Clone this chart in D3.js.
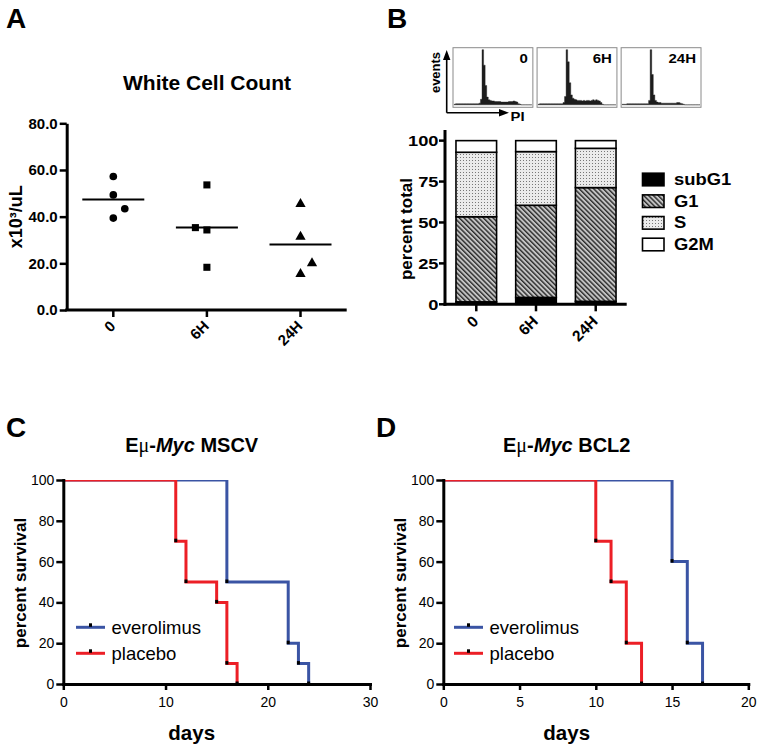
<!DOCTYPE html>
<html><head><meta charset="utf-8">
<script src="https://cdnjs.cloudflare.com/ajax/libs/d3/7.8.5/d3.min.js"></script>
<style>
body{margin:0;background:#fff;}
text{font-family:Arial,"Liberation Sans",Helvetica,sans-serif;fill:#000;}
</style></head><body>
<svg id="fig" width="762" height="750"></svg>
<script>
// ---------- DATA ----------
// Panel A: white cell count (x10^3/uL)
const wbcCategories = ["0", "6H", "24H"];
const wbc0 = [57.2, 49.3, 43.4, 39.4];
const wbc6H = [53.6, 35.3, 34.3, 18.3];
const wbc24H = [45.4, 31.4, 20.0, 15.4];
const wbcDodge = [[0, 0, 1, 0], [0, -1, 0, 0], [0, 0, 1, 0]];
const wbcTicks = [0, 20, 40, 60, 80];

// Panel B: cell cycle histograms (relative events per PI bin)
const histLabels = ["0", "6H", "24H"];
const hist0 = [1,2,2,2,2,2,2,2,2,2,2,2,2,2,2,2,3,10,100,72,35,14,9,8,7,7,6,6,6,6,5,5,5,5,5,6,6,6,7,6,5,2,1,0,0,0,0,0,0,0];
const hist6H = [1,2,2,2,2,2,2,2,2,2,2,2,2,2,2,2,4,15,100,78,40,18,12,10,9,8,8,8,7,8,7,8,8,7,8,9,8,9,8,7,4,1,0,0,0,0,0,0,0,0];
const hist24H = [1,1,1,2,2,2,2,2,2,2,2,2,2,2,2,2,2,8,100,55,18,8,5,4,4,3,3,3,3,3,3,3,3,3,3,4,4,3,2,1,0,0,0,0,0,0,0,0,0,0];

// Panel B: stacked percent of cell cycle phases
const cycleCategories = ["0", "6H", "24H"];
const cyclePhases = ["subG1", "G1", "S", "G2M"];
const subG1 = [1.5, 4.2, 1.8];
const G1 = [52.0, 56.3, 69.5];
const S = [39.4, 32.8, 24.0];
const G2M = [7.1, 6.7, 4.7];
const cycleTicks = [0, 25, 50, 75, 100];

// Panels C & D: Kaplan-Meier survival (days, percent survival)
const survSeries = ["everolimus", "placebo"];
const cEverDays = [0, 16, 22, 23, 24];
const cEverSurv = [100, 50, 20, 10, 0];
const cPlacDays = [0, 11, 12, 15, 16, 17];
const cPlacSurv = [100, 70, 50, 40, 10, 0];
const dEverDays = [0, 15, 16, 17];
const dEverSurv = [100, 60, 20, 0];
const dPlacDays = [0, 10, 11, 12, 13];
const dPlacSurv = [100, 70, 50, 20, 0];
const cDayTicks = [0, 10, 20, 30];
const dDayTicks = [0, 5, 10, 15, 20];
const survTicks = [0, 20, 40, 60, 80, 100];

// ---------- DRAW ----------
const svg = d3.select("#fig");
svg.append("rect").attr("width", 762).attr("height", 750).attr("fill", "#fff");
const defs = svg.append("defs");

// patterns
const hatch = defs.append("pattern").attr("id", "hatch").attr("patternUnits", "userSpaceOnUse")
  .attr("width", 3.4).attr("height", 3.4).attr("patternTransform", "rotate(-45)");
hatch.append("rect").attr("width", 3.4).attr("height", 3.4).attr("fill", "#c4c4c4");
hatch.append("rect").attr("x", 0).attr("width", 1.4).attr("height", 3.4).attr("fill", "#2a2a2a");
const dots = defs.append("pattern").attr("id", "dots").attr("patternUnits", "userSpaceOnUse")
  .attr("width", 3).attr("height", 3);
dots.append("rect").attr("width", 3).attr("height", 3).attr("fill", "#ebebeb");
dots.append("rect").attr("x", 1).attr("y", 1).attr("width", 1).attr("height", 1).attr("fill", "#777");

function stretchText(g, x, y, sx, txt) {
  return g.append("text").attr("transform", `translate(${x},${y}) scale(${sx},1)`).text(txt);
}

// panel letters
[["A", 6, 28], ["B", 387, 28], ["C", 6, 437], ["D", 376, 437]].forEach(([t, x, y]) =>
  svg.append("text").attr("x", x).attr("y", y).attr("font-size", 28).attr("font-weight", "bold").text(t));

// ===== Panel A =====
{
  const g = svg.append("g");
  const y = d3.scaleLinear().domain([0, 80]).range([310, 123.3]);
  const x = d3.scalePoint().domain(wbcCategories).range([113.3, 300.5]);
  const axL = g.append("g").attr("transform", "translate(66.7,0)")
    .call(d3.axisLeft(y).tickValues(wbcTicks).tickFormat(d3.format(".1f")).tickSize(7).tickPadding(2).tickSizeOuter(0));
  axL.select(".domain").attr("stroke-width", 3);
  axL.selectAll(".tick line").attr("stroke-width", 2.5);
  axL.selectAll(".tick text").attr("font-size", 15).attr("font-weight", "bold").attr("font-family", "Arial, 'Liberation Sans', sans-serif").attr("fill", "#000");
  g.append("line").attr("x1", 65.2).attr("x2", 346.7).attr("y1", y(0)).attr("y2", y(0)).attr("stroke", "#000").attr("stroke-width", 3);
  wbcCategories.forEach(c => {
    g.append("line").attr("x1", x(c)).attr("x2", x(c)).attr("y1", y(0)).attr("y2", y(0) + 7).attr("stroke", "#000").attr("stroke-width", 2.5);
    g.append("text").attr("transform", `translate(${x(c) + 3},${y(0) + 17}) rotate(-45)`)
      .attr("text-anchor", "end").attr("font-size", 15).attr("font-weight", "bold").text(c);
  });
  const series = [wbc0, wbc6H, wbc24H];
  const shapes = [d3.symbolCircle, d3.symbolSquare, d3.symbolTriangle];
  const sizes = [46, 50, 46];
  series.forEach((vals, i) => {
    const c = wbcCategories[i];
    vals.forEach((v, j) => {
      g.append("path").attr("d", d3.symbol(shapes[i], sizes[i])())
        .attr("transform", `translate(${x(c) + wbcDodge[i][j] * 11.5},${y(v)})`).attr("fill", "#000");
    });
    const m = d3.mean(vals);
    g.append("line").attr("x1", x(c) - 31).attr("x2", x(c) + 31).attr("y1", y(m)).attr("y2", y(m))
      .attr("stroke", "#000").attr("stroke-width", 2);
  });
  g.append("text").attr("x", 207).attr("y", 89.5).attr("text-anchor", "middle")
    .attr("font-size", 21).attr("font-weight", "bold").text("White Cell Count");
  g.append("text").attr("transform", "translate(22,216.7) rotate(-90)").attr("text-anchor", "middle")
    .attr("font-size", 18).attr("font-weight", "bold").text("x10³/uL");
}

// ===== Panel B histograms =====
{
  const g = svg.append("g");
  const xb = d3.scaleBand().domain(histLabels).range([453, 701]).paddingInner(0.05);
  const hists = [hist0, hist6H, hist24H];
  const top = 47.7, h = 59.6;
  histLabels.forEach((lab, i) => {
    const x0 = xb(lab), w = xb.bandwidth();
    const data = hists[i];
    const xs = d3.scaleLinear().domain([0, data.length]).range([x0 + 1, x0 + w - 1]);
    const ys = d3.scaleLinear().domain([0, 100]).range([top + h - 2.5, top + 2]);
    const area = d3.area().x((d, k) => xs(k)).y0(ys(0)).y1(d => ys(d)).curve(d3.curveStepAfter);
    g.append("path").attr("d", area(data.concat([data[data.length - 1]]))).attr("fill", "#1c1c1c")
      .attr("stroke", "#1c1c1c").attr("stroke-width", 0.4);
    g.append("rect").attr("x", x0).attr("y", top).attr("width", w).attr("height", h)
      .attr("fill", "none").attr("stroke", "#8a8a8a").attr("stroke-width", 1);
    stretchText(g, x0 + w - 5, 62.5, 1.2, lab).attr("text-anchor", "end").attr("font-size", 12.5).attr("font-weight", "bold");
  });
  // axes arrows
  g.append("path").attr("d", "M446.7,112.7V58 M446.7,112.7H500").attr("stroke", "#000").attr("stroke-width", 1.6).attr("fill", "none");
  g.append("path").attr("d", "M446.7,50L443,60L450.4,60Z M509,112.7L499,109L499,116.4Z").attr("fill", "#000");
  g.append("text").attr("transform", "translate(439.5,72.5) rotate(-90)").attr("text-anchor", "middle")
    .attr("font-size", 13).attr("font-weight", "bold").text("events");
  stretchText(g, 510.5, 120.5, 1.1, "PI").attr("font-size", 13.5).attr("font-weight", "bold");
}

// ===== Panel B stacked bars =====
{
  const g = svg.append("g");
  const x = d3.scaleBand().domain(cycleCategories).range([446, 626]).paddingInner(0.32).paddingOuter(0.167);
  const y = d3.scaleLinear().domain([0, 106.5]).range([304.3, 130]);
  const rows = cycleCategories.map((c, i) => ({cat: c, subG1: subG1[i], G1: G1[i], S: S[i], G2M: G2M[i]}));
  const stack = d3.stack().keys(cyclePhases)(rows);
  const fills = {subG1: "#000", G1: "url(#hatch)", S: "url(#dots)", G2M: "#fff"};
  stack.forEach(layer => {
    g.selectAll(null).data(layer).enter().append("rect")
      .attr("x", d => x(d.data.cat)).attr("width", x.bandwidth())
      .attr("y", d => y(d[1])).attr("height", d => y(d[0]) - y(d[1]))
      .attr("fill", fills[layer.key]).attr("stroke", "#000").attr("stroke-width", 1.6);
  });
  // y axis
  g.append("line").attr("x1", 445).attr("x2", 445).attr("y1", 130).attr("y2", 305.8).attr("stroke", "#000").attr("stroke-width", 3);
  cycleTicks.forEach(t => {
    g.append("line").attr("x1", 439).attr("x2", 445).attr("y1", y(t)).attr("y2", y(t)).attr("stroke", "#000").attr("stroke-width", 2.5);
    stretchText(g, 438.5, y(t) + 5.3, 1.22, t).attr("text-anchor", "end").attr("font-size", 15).attr("font-weight", "bold");
  });
  g.append("line").attr("x1", 443.5).attr("x2", 626.7).attr("y1", y(0)).attr("y2", y(0)).attr("stroke", "#000").attr("stroke-width", 3);
  cycleCategories.forEach(c => {
    const cx = x(c) + x.bandwidth() / 2;
    g.append("line").attr("x1", cx).attr("x2", cx).attr("y1", y(0)).attr("y2", y(0) + 7).attr("stroke", "#000").attr("stroke-width", 2.5);
    g.append("text").attr("transform", `translate(${cx + 3},${y(0) + 18}) rotate(-45)`)
      .attr("text-anchor", "end").attr("font-size", 15.5).attr("font-weight", "bold").text(c);
  });
  g.append("text").attr("transform", "translate(411.5,229) rotate(-90)").attr("text-anchor", "middle")
    .attr("font-size", 17).attr("font-weight", "bold").text("percent total");
  // legend
  const ly = d3.scalePoint().domain(cyclePhases).range([179.5, 244.5]);
  cyclePhases.forEach(p => {
    g.append("rect").attr("x", 642.5).attr("y", ly(p) - 6.3).attr("width", 21.5).attr("height", 12.6)
      .attr("fill", fills[p]).attr("stroke", "#000").attr("stroke-width", 1.6);
    stretchText(g, 674, ly(p) + 5.5, 1.15, p).attr("font-size", 16).attr("font-weight", "bold");
  });
}

// ===== Panels C & D =====
function survivalPanel(opts) {
  const g = svg.append("g");
  const x = d3.scaleLinear().domain(opts.xDomain).range(opts.xRange);
  const y = d3.scaleLinear().domain([0, 100]).range([684, 480]);
  const clipId = "clip" + opts.id;
  defs.append("clipPath").attr("id", clipId).append("rect")
    .attr("x", opts.xRange[0] - 2).attr("y", y(100)).attr("width", opts.xRange[1] - opts.xRange[0] + 4).attr("height", 210);
  const colors = {everolimus: "#3a54a4", placebo: "#ec1f26"};
  const line = d3.line().x(d => x(d[0])).y(d => y(d[1])).curve(d3.curveStepAfter);
  const lg = g.append("g").attr("clip-path", `url(#${clipId})`);
  opts.series.forEach(s => {
    const pts = s.days.map((d, i) => [d, s.surv[i]]);
    lg.append("path").attr("d", line(pts)).attr("fill", "none").attr("stroke", colors[s.name]).attr("stroke-width", 3);
  });
  // axes
  const axL = g.append("g").attr("transform", `translate(${opts.xRange[0]},0)`)
    .call(d3.axisLeft(y).tickValues(survTicks).tickSize(7).tickPadding(2).tickSizeOuter(0));
  const axB = g.append("g").attr("transform", `translate(0,${y(0)})`)
    .call(d3.axisBottom(x).tickValues(opts.xTicks).tickSize(6).tickPadding(7).tickSizeOuter(0));
  [axL, axB].forEach(a => {
    a.select(".domain").attr("stroke-width", 3).attr("stroke-linecap", "square");
    a.selectAll(".tick line").attr("stroke-width", 2.5);
    a.selectAll(".tick text").attr("font-size", 14).attr("font-family", "Arial, 'Liberation Sans', sans-serif").attr("fill", "#000");
  });
  // step markers
  opts.series.forEach(s => {
    s.days.forEach((d, i) => {
      if (i === 0) return;
      g.append("rect").attr("x", x(d) - 1.5).attr("y", y(s.surv[i]) - 2.5).attr("width", 3).attr("height", 3.5).attr("fill", "#000");
    });
  });
  // title
  const cx = opts.titleX;
  const t = g.append("text").attr("x", cx).attr("y", 452).attr("text-anchor", "middle").attr("font-size", 20).attr("font-weight", "bold");
  t.append("tspan").text("E");
  t.append("tspan").attr("font-family", "'Liberation Serif','DejaVu Serif',serif").attr("font-weight", "normal").text("μ");
  t.append("tspan").text("-");
  t.append("tspan").attr("font-style", "italic").text("Myc");
  t.append("tspan").text(" " + opts.title);
  g.append("text").attr("x", cx).attr("y", 740).attr("text-anchor", "middle").attr("font-size", 20.5).attr("font-weight", "bold").text("days");
  g.append("text").attr("transform", `translate(${opts.xRange[0] - 37},583) rotate(-90)`).attr("text-anchor", "middle")
    .attr("font-size", 17).attr("font-weight", "bold").text("percent survival");
  // legend
  const ly = d3.scalePoint().domain(survSeries).range([627.3, 653.3]);
  survSeries.forEach(n => {
    const lx = opts.xRange[0] + opts.legendDx;
    g.append("line").attr("x1", lx).attr("x2", lx + 29).attr("y1", ly(n)).attr("y2", ly(n)).attr("stroke", colors[n]).attr("stroke-width", 3);
    g.append("rect").attr("x", lx + 13).attr("y", ly(n) - 4).attr("width", 3).attr("height", 3.5).attr("fill", "#000");
    g.append("text").attr("x", lx + 35.5).attr("y", ly(n) + 6.5).attr("font-size", 18.5).text(n);
  });
}

survivalPanel({id: "C", xDomain: [0, 30], xRange: [63.3, 370], xTicks: cDayTicks, titleX: 191.7, title: "MSCV", legendDx: 12.7,
  series: [{name: "everolimus", days: cEverDays, surv: cEverSurv}, {name: "placebo", days: cPlacDays, surv: cPlacSurv}]});
survivalPanel({id: "D", xDomain: [0, 20], xRange: [443.3, 748.3], xTicks: dDayTicks, titleX: 566.7, title: "BCL2", legendDx: 10.7,
  series: [{name: "everolimus", days: dEverDays, surv: dEverSurv}, {name: "placebo", days: dPlacDays, surv: dPlacSurv}]});
</script>
</body></html>
